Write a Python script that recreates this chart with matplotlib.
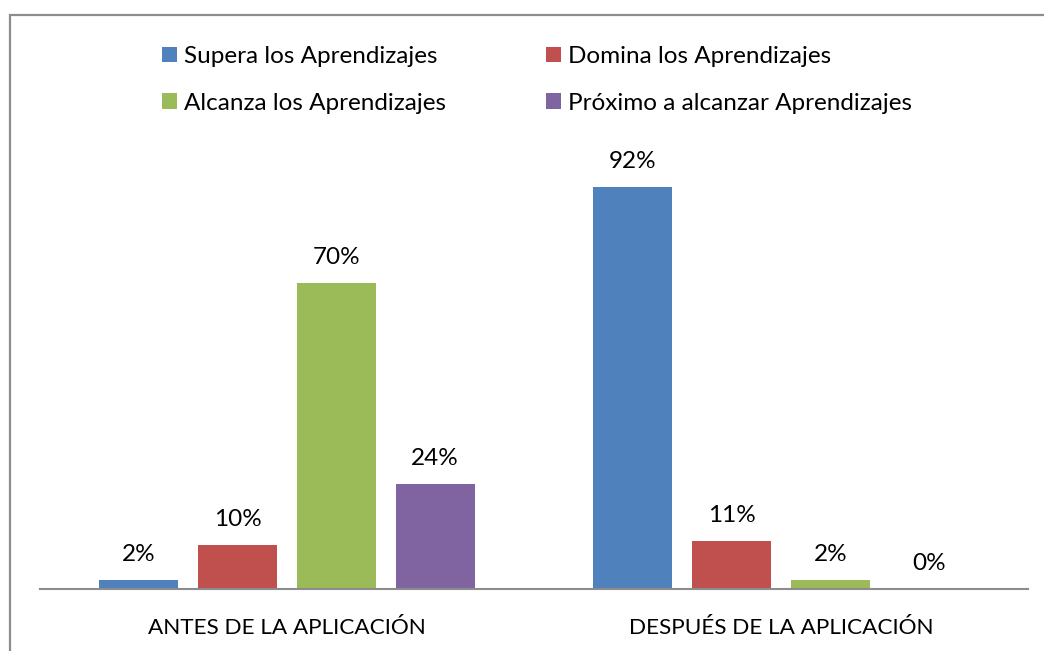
import matplotlib.pyplot as plt
import numpy as np
from matplotlib.patches import Rectangle

##data
categories = ["ANTES DE LA APLICACIÓN", "DESPUÉS DE LA APLICACIÓN"]
series = ["Supera los Aprendizajes", "Domina los Aprendizajes",
          "Alcanza los Aprendizajes", "Próximo a alcanzar Aprendizajes"]
supera = [2, 92]
domina = [10, 11]
alcanza = [70, 2]
proximo = [24, 0]
colors = ["#4F81BD", "#C0504D", "#9BBB59", "#8064A2"]

plt.rcParams['font.family'] = ['Lato', 'DejaVu Sans']

W, H = 1044, 651
fig = plt.figure(figsize=(W / 100, H / 100), dpi=100)

##outer border (clipped at right and bottom like the original)
fig.patches.append(Rectangle((10 / W, -0.1), 1.2, (H - 15) / H + 0.1,
                             transform=fig.transFigure, fill=False,
                             edgecolor="#8c8c8c", linewidth=1.6))

ax = fig.add_axes([40 / W, (H - 589) / H, (1028 - 40) / W, (589 - 152) / H])

x = np.arange(len(categories)) + 0.5
slot = 0.2
bw = 0.16
values = [supera, domina, alcanza, proximo]
handles = []
for i, (name, vals, c) in enumerate(zip(series, values, colors)):
    pos = x + (i - 1.5) * slot
    b = ax.bar(pos, vals, width=bw, color=c, label=name, zorder=2)
    handles.append(b)
    for p, v in zip(pos, vals):
        ax.text(p, v + 5.9, f"{v}%", ha="center", va="center", fontsize=17.5)

ax.set_xlim(0, 2)
ax.set_ylim(0, 100)
ax.set_xticks(x)
ax.set_xticklabels(categories, fontsize=16.2)
ax.tick_params(axis="x", length=0, pad=21)
ax.set_yticks([])
for s in ["top", "right", "left"]:
    ax.spines[s].set_visible(False)
ax.spines["bottom"].set_color("#8c8c8c")
ax.spines["bottom"].set_linewidth(1.5)

##legend is filled column by column, so reorder to get row-wise layout
order = [0, 2, 1, 3]
fig.legend([handles[k] for k in order], [series[k] for k in order],
           loc="upper left", bbox_to_anchor=(162 / W, 1 - 46 / H), ncol=2,
           frameon=False, fontsize=17.5, handlelength=0.62, handleheight=0.62,
           handletextpad=0.3, columnspacing=4.1, labelspacing=1.05,
           borderpad=0, borderaxespad=0)

plt.savefig("out.png", dpi=100)
